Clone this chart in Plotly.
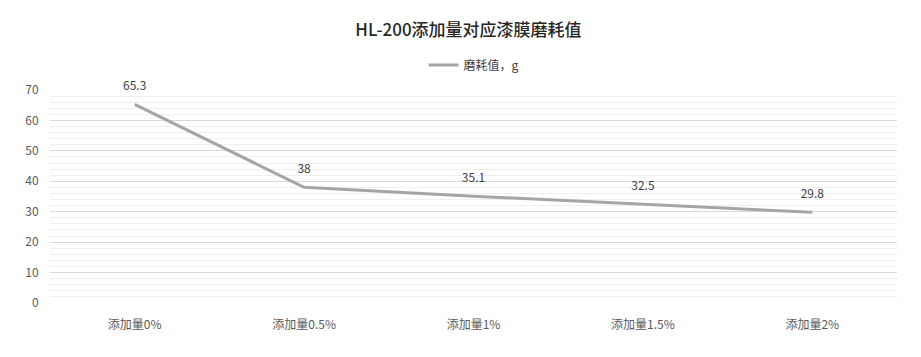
import plotly.graph_objects as go

categories = ["添加量0%", "添加量0.5%", "添加量1%", "添加量1.5%", "添加量2%"]
wear_values = [65.3, 38, 35.1, 32.5, 29.8]
series_name = "磨耗值，g"
title_text = "HL-200添加量对应漆膜磨耗值"

font_family = "Noto Sans CJK SC, Noto Sans, sans-serif"

fig = go.Figure()
fig.add_trace(go.Scatter(
    x=categories,
    y=wear_values,
    name=series_name,
    mode="lines+markers+text",
    line=dict(color="#A5A5A5", width=3),
    marker=dict(size=16, color="rgba(0,0,0,0)"),
    text=[f"{v:g}" for v in wear_values],
    textposition="top center",
    textfont=dict(size=12, color="#404040", family=font_family),
    cliponaxis=False,
))

fig.update_layout(
    width=921,
    height=357,
    margin=dict(l=42, r=32, t=82, b=62, autoexpand=False),
    paper_bgcolor="white",
    plot_bgcolor="white",
    font=dict(family=font_family, color="#595959", size=12),
    title=dict(
        text=title_text,
        x=0.5,
        xanchor="center",
        y=0.937,
        yanchor="middle",
        font=dict(size=17, color="#262626", family=font_family, weight=500),
    ),
    showlegend=True,
    legend=dict(
        orientation="h",
        x=0.5,
        xanchor="center",
        y=0.84,
        yref="container",
        yanchor="middle",
        font=dict(size=12, color="#404040"),
        itemwidth=30,
    ),
    xaxis=dict(
        type="category",
        range=[-0.5, 4.5],
        showgrid=False,
        zeroline=False,
        showline=False,
        ticks="outside",
        ticklen=11,
        tickcolor="rgba(0,0,0,0)",
        tickfont=dict(size=12, color="#595959"),
    ),
    yaxis=dict(
        range=[0, 70],
        dtick=10,
        showgrid=True,
        gridcolor="#D9D9D9",
        gridwidth=1,
        zeroline=False,
        showline=False,
        ticks="outside",
        ticklen=8,
        tickcolor="rgba(0,0,0,0)",
        tickfont=dict(size=12, color="#595959"),
        minor=dict(dtick=2, showgrid=True, gridcolor="#EFEFEF", gridwidth=1),
    ),
)

fig.write_html("out.html")
